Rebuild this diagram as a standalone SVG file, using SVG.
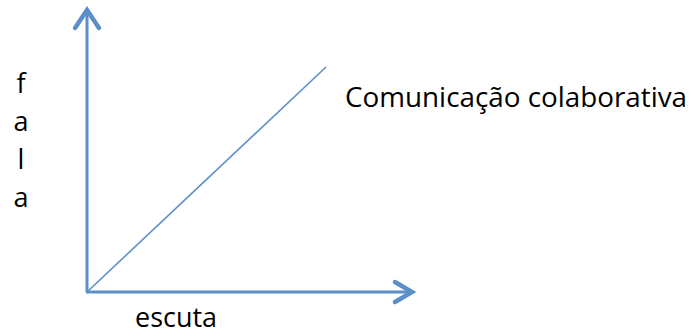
<svg xmlns="http://www.w3.org/2000/svg" width="691" height="336" viewBox="0 0 691 336">
<style>
.axis{stroke:#5b8fc9;stroke-width:3;fill:none}
.head{stroke:#5b8fc9;stroke-width:4.5;fill:none;stroke-linecap:round;stroke-linejoin:miter}
.diag{stroke:#5b8fc9;stroke-width:1.6;fill:none}
.t{font-family:"Open Sans","Liberation Sans",sans-serif;font-size:27px;fill:#000}
</style>
<rect width="691" height="336" fill="#fff"/>
<g id="connectors">
<line class="axis" x1="87" y1="292" x2="87" y2="11"/>
<polyline class="head" points="75,28 87,10 99,28"/>
<line class="axis" x1="86" y1="292" x2="411" y2="292"/>
<polyline class="head" points="395,282 412,292 395,302"/>
<line class="diag" x1="87" y1="292" x2="326" y2="67"/>
</g>
<g id="fala">
<text class="t" x="21" y="93" text-anchor="middle">f</text>
<text class="t" x="21" y="131" text-anchor="middle">a</text>
<text class="t" x="21" y="169" text-anchor="middle">l</text>
<text class="t" x="21" y="207" text-anchor="middle">a</text>
</g>
<g id="comunicacao">
<text class="t" x="345" y="107" textLength="342" lengthAdjust="spacingAndGlyphs">Comunicação colaborativa</text>
</g>
<g id="escuta">
<text class="t" x="135" y="327" textLength="82" lengthAdjust="spacingAndGlyphs">escuta</text>
</g>
</svg>
